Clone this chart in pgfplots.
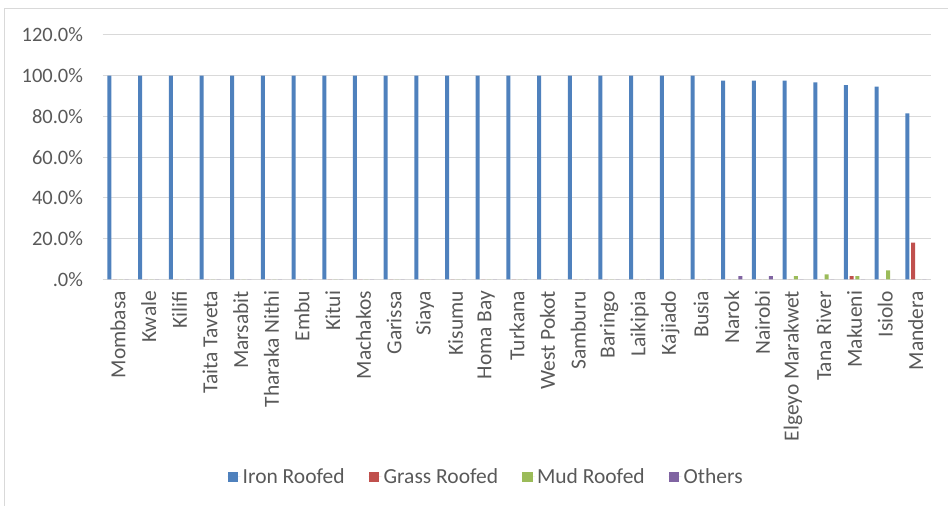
\documentclass[border=0pt]{standalone}
\usepackage{pgfplots}
\pgfplotsset{compat=1.18}
\usepackage{fontspec}
\setmainfont{Carlito}

\definecolor{ironc}{HTML}{4F81BD}
\definecolor{grassc}{HTML}{C0504D}
\definecolor{mudc}{HTML}{9BBB59}
\definecolor{otherc}{HTML}{8064A2}
\definecolor{textc}{HTML}{595959}
\definecolor{gridc}{HTML}{D9D9D9}

\newcommand\lbl{\fontsize{20.5}{24}\selectfont}
\newcommand\cat{\fontsize{21.5}{25}\selectfont}

\begin{document}
\begin{tikzpicture}[x=1pt,y=1pt]
% canvas and chart frame
\path (0,0) rectangle (948,506);
\draw[gridc, line width=1pt] (5,0) -- (5,497) -- (948,497);
\begin{axis}[
  at={(102.7pt,226.5pt)}, anchor=south west,
  scale only axis, width=829pt, height=244.5pt,
  xmin=-0.5, xmax=26.5, ymin=0, ymax=120,
  ybar=1.7pt, bar width=4pt,
  axis lines=left, axis line style={-},
  y axis line style={draw=none},
  x axis line style={draw=gridc, line width=1pt},
  tick style={draw=none},
  ymajorgrids, grid style={gridc, line width=1pt},
  ytick={0,20,40,60,80,100,120},
  yticklabels={.0\%,20.0\%,40.0\%,60.0\%,80.0\%,100.0\%,120.0\%},
  yticklabel style={font=\lbl, text=textc, xshift=-14pt},
  xtick={0,...,26},
  xticklabels={Mombasa,Kwale,Kilifi,Taita Taveta,Marsabit,Tharaka Nithi,Embu,Kitui,Machakos,Garissa,Siaya,Kisumu,Homa Bay,Turkana,West Pokot,Samburu,Baringo,Laikipia,Kajiado,Busia,Narok,Nairobi,Elgeyo Marakwet,Tana River,Makueni,Isiolo,Mandera},
  % rotated labels: xshift runs along the text, i.e. downwards
  xticklabel style={font=\cat, text=textc, rotate=90, anchor=east, xshift=-6pt},
  legend columns=4,
  legend style={at={(0.4629,-0.808)}, anchor=center, draw=none, fill=none,
    font=\cat, text=textc,
    /tikz/every even column/.style={column sep=22pt}},
  legend image code/.code={\draw[draw=none] (0pt,0pt) -- (13pt,0pt);
    \fill[#1] (0pt,-5.3pt) rectangle (10.7pt,5.3pt);},
]
\addplot[fill=ironc, draw=none] coordinates {
 (0,100) (1,100) (2,100) (3,100) (4,100) (5,100) (6,100) (7,100) (8,100) (9,100)
 (10,100) (11,100) (12,100) (13,100) (14,100) (15,100) (16,100) (17,100) (18,100) (19,100)
 (20,97.6) (21,97.6) (22,97.6) (23,96.7) (24,95.4) (25,94.6) (26,81.5)};
\addlegendentry{Iron Roofed}
\addplot[fill=grassc, draw=none] coordinates {
 (0,0) (1,0) (2,0) (3,0) (4,0) (5,0) (6,0) (7,0) (8,0) (9,0)
 (10,0) (11,0) (12,0) (13,0) (14,0) (15,0) (16,0) (17,0) (18,0) (19,0)
 (20,0) (21,0) (22,0) (23,0) (24,1.6) (25,0) (26,18.0)};
\addlegendentry{Grass Roofed}
\addplot[fill=mudc, draw=none] coordinates {
 (0,0) (1,0) (2,0) (3,0) (4,0) (5,0) (6,0) (7,0) (8,0) (9,0)
 (10,0) (11,0) (12,0) (13,0) (14,0) (15,0) (16,0) (17,0) (18,0) (19,0)
 (20,0) (21,0) (22,1.6) (23,2.4) (24,1.6) (25,4.4) (26,0)};
\addlegendentry{Mud Roofed}
\addplot[fill=otherc, draw=none] coordinates {
 (0,0) (1,0) (2,0) (3,0) (4,0) (5,0) (6,0) (7,0) (8,0) (9,0)
 (10,0) (11,0) (12,0) (13,0) (14,0) (15,0) (16,0) (17,0) (18,0) (19,0)
 (20,1.6) (21,1.6) (22,0) (23,0) (24,0) (25,0) (26,0)};
\addlegendentry{Others}
\end{axis}
\end{tikzpicture}
\end{document}
